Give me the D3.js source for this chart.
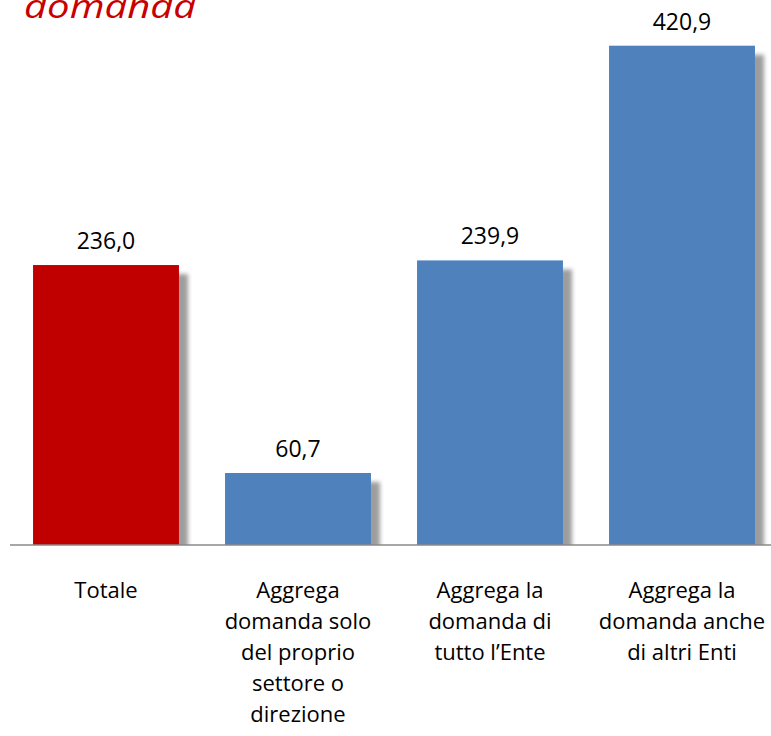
<!DOCTYPE html>
<html>
<head>
<meta charset="utf-8">
<script src="https://cdn.jsdelivr.net/npm/d3@7"></script>
<style>
  body { margin: 0; background: #fff; }
  svg { display: block; }
</style>
</head>
<body>
<svg width="771" height="736"></svg>
<script>
// data
const categories = [
  ["Totale"],
  ["Aggrega", "domanda solo", "del proprio", "settore o", "direzione"],
  ["Aggrega la", "domanda di", "tutto l\u2019Ente"],
  ["Aggrega la", "domanda anche", "di altri Enti"]
];
const values = [236.0, 60.7, 239.9, 420.9];
const barColors = ["#c00000", "#4f81bd", "#4f81bd", "#4f81bd"];
const titleText = "domanda";

const svg = d3.select("svg");
const baseY = 545;

let x = d3.scaleBand()
  .domain(d3.range(values.length))
  .range([10, 778])
  .paddingInner(0.24)
  .paddingOuter(0.12);

let y = d3.scaleLinear()
  .domain([0, 420.9])
  .range([baseY, 45.7]);

const fmt = v => d3.format(".1f")(v).replace(".", ",");

// shadow blur + clip at baseline
let defs = svg.append("defs");
defs.append("filter").attr("id", "blur")
  .attr("x", "-20%").attr("y", "-20%").attr("width", "140%").attr("height", "140%")
  .append("feGaussianBlur").attr("stdDeviation", 2.2);
defs.append("clipPath").attr("id", "above")
  .append("rect").attr("x", 0).attr("y", 0).attr("width", 771).attr("height", baseY);

// title (cut by the top edge, like the reference)
svg.append("text")
  .attr("x", 24).attr("y", 18)
  .attr("font-family", "Open Sans")
  .attr("font-style", "italic")
  .attr("font-size", 33)
  .attr("textLength", 172)
  .attr("lengthAdjust", "spacingAndGlyphs")
  .attr("fill", "#c80000")
  .text(titleText);

let shadows = svg.append("g").attr("clip-path", "url(#above)");
shadows.selectAll("rect")
  .data(values)
  .join("rect")
  .attr("x", (d, i) => x(i) + 9)
  .attr("y", d => y(d) + 9)
  .attr("width", x.bandwidth())
  .attr("height", d => baseY - y(d))
  .attr("fill", "#8c8c8c")
  .attr("opacity", 0.85)
  .attr("filter", "url(#blur)");

svg.append("g").selectAll("rect")
  .data(values)
  .join("rect")
  .attr("x", (d, i) => x(i))
  .attr("y", d => y(d))
  .attr("width", x.bandwidth())
  .attr("height", d => baseY - y(d))
  .attr("fill", (d, i) => barColors[i]);

// axis line
svg.append("line")
  .attr("x1", 10).attr("x2", 771)
  .attr("y1", baseY).attr("y2", baseY)
  .attr("stroke", "#8a8a8a")
  .attr("stroke-width", 1.5);

// value labels
svg.append("g").selectAll("text")
  .data(values)
  .join("text")
  .attr("x", (d, i) => x(i) + x.bandwidth() / 2)
  .attr("y", d => y(d) - 16)
  .attr("text-anchor", "middle")
  .attr("font-family", "Open Sans")
  .attr("font-size", 23)
  .attr("fill", "#000")
  .text(d => fmt(d));

// category labels
let cat = svg.append("g").selectAll("text")
  .data(categories)
  .join("text")
  .attr("text-anchor", "middle")
  .attr("font-family", "Open Sans")
  .attr("font-size", 22)
  .attr("fill", "#000");

cat.selectAll("tspan")
  .data((d, i) => d.map(line => ({ line, i })))
  .join("tspan")
  .attr("x", d => x(d.i) + x.bandwidth() / 2)
  .attr("y", (d, j) => 598 + j * 31)
  .text(d => d.line);
</script>
</body>
</html>
